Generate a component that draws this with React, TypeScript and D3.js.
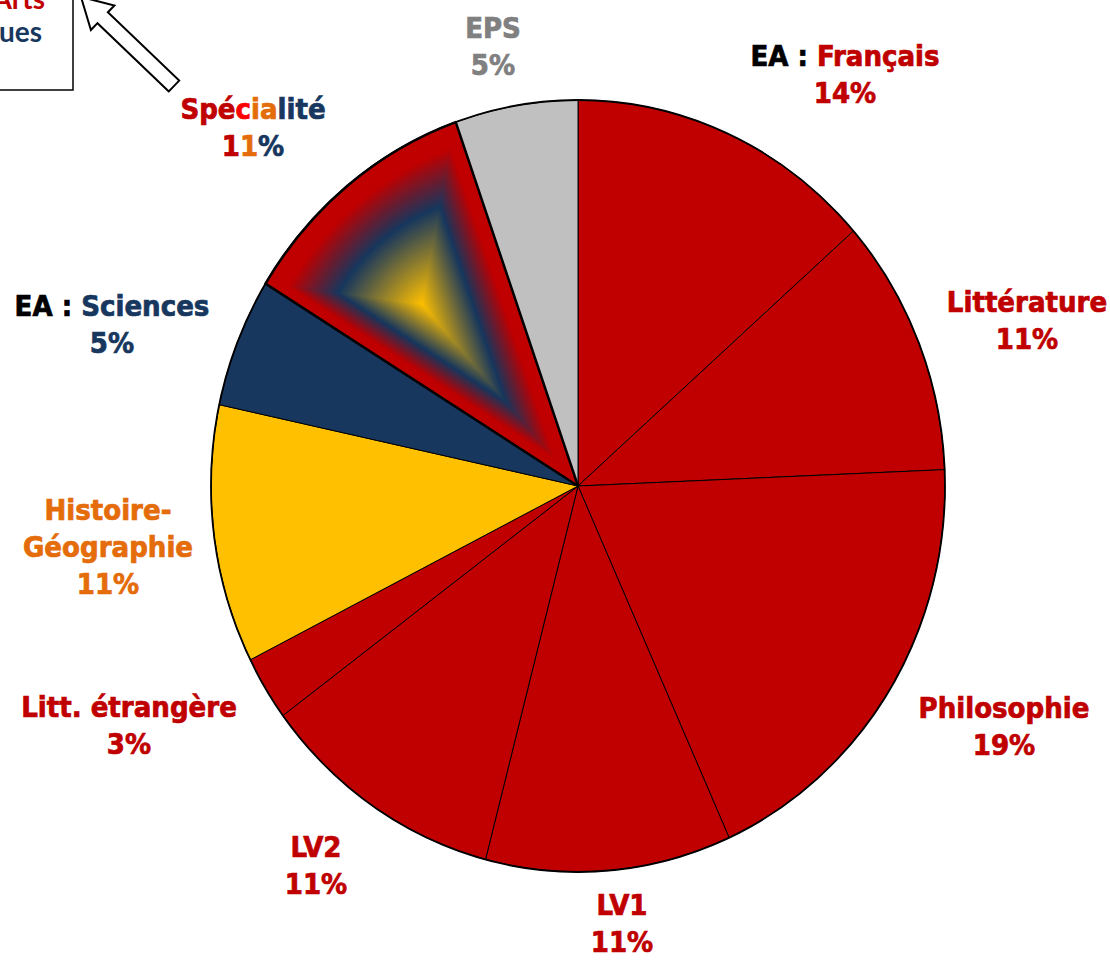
import React from "react";
import * as d3 from "d3";

// ---- data ----
const subjects = [
  "EA : Français",
  "Littérature",
  "Philosophie",
  "LV1",
  "LV2",
  "Litt. étrangère",
  "Histoire-Géographie",
  "EA : Sciences",
  "Spécialité",
  "EPS",
];
const coefficients = [5, 4, 7, 4, 4, 1, 4, 2, 4, 2];
const noteLines = ["Arts", "ues"];

// ---- layout / style ----
const W = 1110;
const H = 960;
const CX = 578;
const CY = 486;
const RX = 367;
const RY = 386;
const LINE = 37;

const RED = "#C00000";
const BRIGHT = "#FF0000";
const NAVY = "#17375E";
const GOLD = "#FFC000";
const ORANGE = "#E46C0A";
const GREY_FILL = "#C0C0C0";
const GREY_TEXT = "#808080";

const sliceFill = [RED, RED, RED, RED, RED, RED, GOLD, NAVY, "gradient", GREY_FILL];
const labelAnchor: [number, number][] = [
  [845, 66],
  [1027, 312],
  [1004, 718],
  [622, 915],
  [316, 857],
  [129, 717],
  [108, 520],
  [112, 316],
  [253, 119],
  [493, 38],
];

const FONT = "'DejaVu Sans Condensed', 'DejaVu Sans', sans-serif";

type Seg = [string, string];

function labelLines(i: number, name: string, pct: string): Seg[][] {
  if (name.startsWith("EA : ")) {
    const c = i === 0 ? RED : NAVY;
    return [
      [["EA : ", "#000000"], [name.slice(5), c]],
      [[pct, c]],
    ];
  }
  if (name === "Histoire-Géographie") {
    const k = name.indexOf("-") + 1;
    return [[[name.slice(0, k), ORANGE]], [[name.slice(k), ORANGE]], [[pct, ORANGE]]];
  }
  if (name === "Spécialité") {
    const pctColors = [RED, ORANGE, NAVY];
    return [
      [
        [name.slice(0, 3), RED],
        [name.slice(3, 4), BRIGHT],
        [name.slice(4, 6), ORANGE],
        [name.slice(6), NAVY],
      ],
      pct.split("").map((ch, j) => [ch, pctColors[Math.min(j, 2)]] as Seg),
    ];
  }
  const c = name === "EPS" ? GREY_TEXT : RED;
  return [[[name, c]], [[pct, c]]];
}

function gradColor(s: number): string {
  if (s >= 0.86) return RED;
  if (s >= 0.54) return d3.interpolateRgb(NAVY, RED)((s - 0.54) / 0.32);
  return d3.interpolateRgb(GOLD, NAVY)(s / 0.54);
}

export default function App() {
  const total = d3.sum(coefficients);
  const arcs = d3
    .pie<number>()
    .sort(null)
    .value((d) => d)
    .startAngle(0)
    .endAngle(2 * Math.PI)(coefficients);
  const arcGen = d3.arc<d3.PieArcDatum<number>>().innerRadius(0).outerRadius(RY);
  const ellipseT = `translate(${CX},${CY}) scale(${RX / RY},1)`;

  // gradient focus: bounding-box centre of the Spécialité wedge
  const gi = sliceFill.indexOf("gradient");
  const ga = arcs[gi];
  const pts: [number, number][] = [[CX, CY]];
  for (let t = 0; t <= 40; t++) {
    const a = ga.startAngle + ((ga.endAngle - ga.startAngle) * t) / 40;
    pts.push([CX + RX * Math.sin(a), CY - RY * Math.cos(a)]);
  }
  const xs = d3.extent(pts, (p) => p[0]) as [number, number];
  const ys = d3.extent(pts, (p) => p[1]) as [number, number];
  const fx = (xs[0] + xs[1]) / 2;
  const fy = (ys[0] + ys[1]) / 2;
  const N = 120;
  const layers = d3.range(N).map((k) => 1 - k / N);

  // block arrow geometry (decoration)
  const tail: [number, number] = [174, 86];
  const tip: [number, number] = [81, -3];
  const L = Math.hypot(tip[0] - tail[0], tip[1] - tail[1]);
  const ang = (Math.atan2(tip[1] - tail[1], tip[0] - tail[0]) * 180) / Math.PI;
  const hw = 7.5;
  const headW = 17;
  const headL = 30;
  const arrowPts = [
    [0, -hw],
    [L - headL, -hw],
    [L - headL, -headW],
    [L, 0],
    [L - headL, headW],
    [L - headL, hw],
    [0, hw],
  ]
    .map((p) => p.join(","))
    .join(" ");

  return (
    <svg
      width={W}
      height={H}
      viewBox={`0 0 ${W} ${H}`}
      style={{ position: "absolute", left: 0, top: 0, background: "#fff" }}
    >
      <rect x={0} y={0} width={W} height={H} fill="#ffffff" />

      {/* pie slices */}
      <g transform={ellipseT}>
        {arcs.map((a, i) => (
          <path
            key={i}
            d={arcGen(a) || ""}
            fill={sliceFill[i] === "gradient" ? RED : sliceFill[i]}
            stroke="#000"
            strokeWidth={1}
            vectorEffect="non-scaling-stroke"
          />
        ))}
      </g>

      {/* path gradient of the Spécialité slice */}
      <g>
        {layers.map((s, k) => (
          <g key={k} transform={`translate(${fx},${fy}) scale(${s}) translate(${-fx},${-fy})`}>
            <path d={arcGen(ga) || ""} transform={ellipseT} fill={gradColor(s)} stroke="none" />
          </g>
        ))}
      </g>
      <g transform={ellipseT}>
        <path
          d={arcGen(ga) || ""}
          fill="none"
          stroke="#000"
          strokeWidth={2.5}
          strokeLinejoin="round"
          vectorEffect="non-scaling-stroke"
        />
        <ellipse
          cx={0}
          cy={0}
          rx={RY}
          ry={RY}
          fill="none"
          stroke="#000"
          strokeWidth={1.8}
          vectorEffect="non-scaling-stroke"
        />
      </g>

      {/* labels */}
      <g fontFamily={FONT} fontWeight="bold" fontSize={29} textAnchor="middle" style={{ fontStretch: "condensed" }}>
        {subjects.map((name, i) => {
          const pct = `${Math.round((coefficients[i] / total) * 100)}%`;
          const lines = labelLines(i, name, pct);
          const [lx, ly] = labelAnchor[i];
          return (
            <g key={i}>
              {lines.map((segs, j) => (
                <text key={j} x={lx} y={ly + j * LINE}>
                  {segs.map(([t, c], m) => (
                    <tspan key={m} fill={c} stroke={c} strokeWidth={0.7}>
                      {t}
                    </tspan>
                  ))}
                </text>
              ))}
            </g>
          );
        })}
      </g>

      {/* note box (top-left, partly outside view) */}
      <rect x={-20} y={-20} width={93} height={110} fill="#fff" stroke="#000" strokeWidth={1.5} />
      <g fontFamily="Lato, 'Open Sans', sans-serif" fontWeight="bold" fontSize={28} textAnchor="end">
        <text x={45} y={9} fill={RED}>
          {noteLines[0]}
        </text>
        <text x={42} y={42} fill={NAVY}>
          {noteLines[1]}
        </text>
      </g>

      {/* block arrow */}
      <polygon
        points={arrowPts}
        transform={`translate(${tail[0]},${tail[1]}) rotate(${ang})`}
        fill="#fff"
        stroke="#000"
        strokeWidth={2}
        strokeLinejoin="miter"
      />
    </svg>
  );
}
